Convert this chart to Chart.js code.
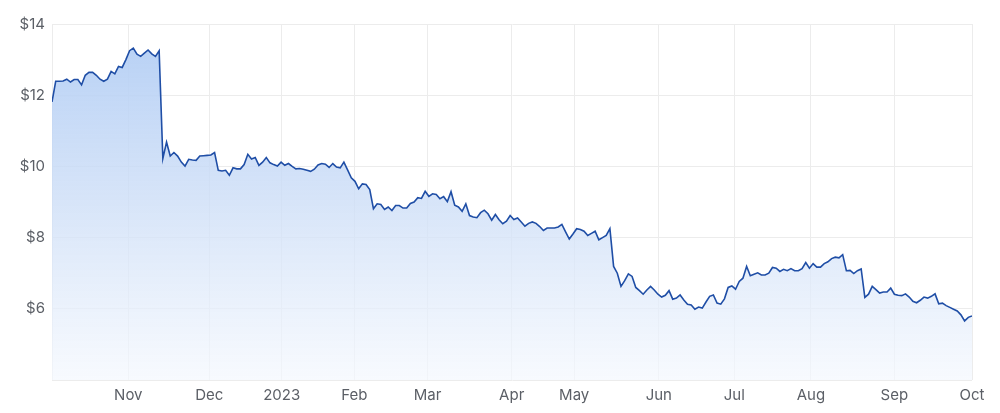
<!DOCTYPE html>
<html>
<head>
<meta charset="utf-8">
<script src="https://cdn.jsdelivr.net/npm/chart.js@4/dist/chart.umd.min.js"></script>
<style>
  html, body { margin: 0; padding: 0; background: #fff; }
  #wrap { width: 1000px; height: 413px; }
</style>
</head>
<body>
<div id="wrap"><canvas id="priceChart"></canvas></div>
<script>
// daily closing price, one value per trading day (Oct 2022 - Oct 2023)
const prices = [
  11.81, 12.39, 12.39, 12.40, 12.45, 12.37, 12.44, 12.44, 12.29, 12.56,
  12.64, 12.64, 12.56, 12.45, 12.39, 12.45, 12.67, 12.60, 12.81, 12.78,
  13.00, 13.25, 13.32, 13.15, 13.09, 13.18, 13.27, 13.16, 13.09, 13.25,
  10.22, 10.68, 10.29, 10.39, 10.29, 10.12, 10.01, 10.20, 10.18, 10.17,
  10.29, 10.30, 10.31, 10.32, 10.39, 9.89, 9.87, 9.89, 9.75, 9.96,
  9.93, 9.93, 10.05, 10.34, 10.21, 10.25, 10.03, 10.12, 10.25, 10.10,
  10.05, 10.01, 10.12, 10.03, 10.08, 10.00, 9.93, 9.94, 9.92, 9.89,
  9.86, 9.92, 10.04, 10.08, 10.06, 9.97, 10.08, 9.98, 9.96, 10.12,
  9.90, 9.68, 9.58, 9.37, 9.51, 9.49, 9.35, 8.81, 8.95, 8.93,
  8.79, 8.86, 8.76, 8.90, 8.90, 8.83, 8.83, 8.96, 9.00, 9.12,
  9.10, 9.30, 9.16, 9.23, 9.21, 9.09, 9.15, 9.01, 9.29, 8.91,
  8.86, 8.74, 8.95, 8.62, 8.58, 8.56, 8.70, 8.77, 8.67, 8.49,
  8.65, 8.50, 8.39, 8.46, 8.62, 8.51, 8.55, 8.44, 8.32, 8.40,
  8.44, 8.40, 8.31, 8.20, 8.27, 8.27, 8.27, 8.30, 8.37, 8.16,
  7.96, 8.10, 8.25, 8.23, 8.18, 8.06, 8.12, 8.18, 7.94, 8.00,
  8.06, 8.25, 7.19, 7.00, 6.63, 6.79, 6.98, 6.91, 6.60, 6.51,
  6.41, 6.53, 6.63, 6.53, 6.41, 6.33, 6.38, 6.51, 6.27, 6.30,
  6.39, 6.25, 6.13, 6.11, 5.99, 6.05, 6.02, 6.19, 6.35, 6.39,
  6.16, 6.13, 6.28, 6.60, 6.64, 6.55, 6.77, 6.86, 7.19, 6.93,
  6.97, 7.01, 6.95, 6.95, 7.00, 7.16, 7.14, 7.05, 7.11, 7.07,
  7.13, 7.07, 7.07, 7.13, 7.30, 7.14, 7.27, 7.17, 7.17, 7.27,
  7.32, 7.41, 7.45, 7.43, 7.52, 7.07, 7.08, 6.99, 7.07, 7.12,
  6.32, 6.41, 6.63, 6.54, 6.44, 6.47, 6.47, 6.58, 6.41, 6.38,
  6.37, 6.42, 6.33, 6.21, 6.17, 6.24, 6.33, 6.30, 6.35, 6.42,
  6.14, 6.16, 6.09, 6.04, 5.99, 5.94, 5.83, 5.66, 5.76, 5.80
];

// where each month label sits (trading-day index) and its text
const monthTickIdx = [20.65, 42.57, 62.17, 81.82, 101.63, 124.42, 141.33, 164.23, 184.67, 205.42, 227.97, 249];
const monthLabels = ["Nov", "Dec", "2023", "Feb", "Mar", "Apr", "May", "Jun", "Jul", "Aug", "Sep", "Oct"];

const yTicks = [4, 6, 8, 10, 12, 14];
const yLabeled = [6, 8, 10, 12, 14];

const points = prices.map((p, i) => ({ x: i, y: p }));

const ctx = document.getElementById("priceChart").getContext("2d");

function areaGradient(context) {
  const area = context.chart.chartArea;
  if (!area) return "rgba(180,205,243,0.9)";
  const g = context.chart.ctx.createLinearGradient(0, area.top, 0, area.bottom);
  g.addColorStop(0, "rgba(176,204,244,0.95)");
  g.addColorStop(0.5, "rgba(205,222,247,0.8)");
  g.addColorStop(1, "rgba(244,248,254,0.7)");
  return g;
}

new Chart(ctx, {
  type: "line",
  data: {
    datasets: [{
      data: points,
      borderColor: "#1f4ea6",
      borderWidth: 1.6,
      backgroundColor: areaGradient,
      fill: "start",
      pointRadius: 0,
      tension: 0
    }]
  },
  options: {
    responsive: true,
    maintainAspectRatio: false,
    animation: false,
    layout: { padding: { top: 24, right: 28, left: 0, bottom: 0 } },
    plugins: {
      legend: { display: false },
      tooltip: { enabled: false }
    },
    scales: {
      x: {
        type: "linear",
        min: 0,
        max: prices.length - 1,
        afterBuildTicks: axis => {
          axis.ticks = monthTickIdx.map(v => ({ value: v }));
        },
        afterFit: axis => { axis.height = 33; },
        ticks: {
          autoSkip: false,
          maxRotation: 0,
          padding: 6,
          color: "#5b5f66",
          font: { family: "Inter, 'Noto Sans', sans-serif", size: 15 },
          callback: (v, i) => monthLabels[i]
        },
        grid: { color: "#ececec", drawTicks: false },
        border: { display: false }
      },
      y: {
        min: 4,
        max: 14,
        afterBuildTicks: axis => {
          axis.ticks = yTicks.map(v => ({ value: v }));
        },
        afterFit: axis => { axis.width = 52; },
        ticks: {
          padding: 7,
          color: "#5b5f66",
          font: { family: "Inter, 'Noto Sans', sans-serif", size: 15 },
          callback: v => yLabeled.includes(v) ? "$" + v : ""
        },
        grid: { color: "#ececec", drawTicks: false },
        border: { display: true, color: "#ececec" }
      }
    }
  }
});
</script>
</body>
</html>
